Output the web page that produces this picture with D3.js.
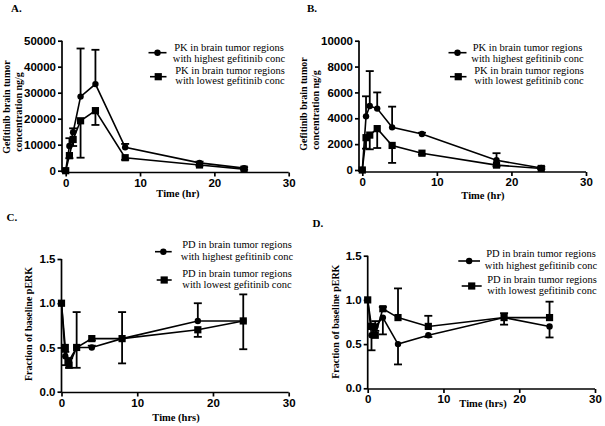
<!DOCTYPE html>
<html><head><meta charset="utf-8">
<script src="https://cdn.jsdelivr.net/npm/d3@7"></script>
<style>
html,body{margin:0;padding:0;background:#fff;}
svg{display:block;}
</style></head>
<body>
<svg id="chart" width="605" height="426"></svg>
<script>
// ---- data ----
const times = [0, 0.5, 1, 2, 4, 8, 18, 24];
const xTicks = [0, 10, 20, 30];

// Panel A (PK, concentration ng/g)
const aHigh    = [0, 9500, 14800, 28500, 33300, 9000, 3000, 1000];
const aHighErr = [0, 3000, 1500, 18500, 13200, 1300, 500, 300];
const aLow     = [0, 5800, 12000, 19200, 23100, 5000, 2200, 600];
const aLowErr  = [0, 1000, 2500, 14200, 5500, 800, 300, 200];
const aYTicks  = [0, 10000, 20000, 30000, 40000, 50000];

// Panel B (PK, concentration ng/g)
const bHigh    = [0, 4150, 4950, 4750, 3300, 2780, 750, 150];
const bHighErr = [0, 1550, 2700, 1250, 1600, 100, 550, 100];
const bLow     = [0, 2500, 2700, 3200, 1900, 1300, 380, 120];
const bLowErr  = [0, 850, 1100, 1500, 1350, 100, 100, 50];
const bYTicks  = [0, 2000, 4000, 6000, 8000, 10000];

// Panel C (PD, fraction of baseline pERK)
const cHigh    = [1.0, 0.4, 0.35, 0.5, 0.5, 0.6, 0.8, 0.8];
const cHighErr = [0, 0.05, 0.03, 0.4, 0.02, 0.3, 0.2, 0.3];
const cLow     = [1.0, 0.5, 0.3, 0.5, 0.6, 0.6, 0.7, 0.8];
const cLowErr  = [0, 0.2, 0.03, 0.23, 0.02, 0.28, 0.08, 0.32];

// Panel D (PD, fraction of baseline pERK)
const dHigh    = [1.0, 0.6, 0.7, 0.8, 0.5, 0.6, 0.8, 0.7];
const dHighErr = [0, 0.17, 0.05, 0.19, 0.23, 0.02, 0.08, 0.125];
const dLow     = [1.0, 0.7, 0.6, 0.9, 0.8, 0.7, 0.8, 0.8];
const dLowErr  = [0, 0.03, 0.16, 0.02, 0.33, 0.12, 0.05, 0.18];
const pdYTicks = [0, 0.5, 1.0, 1.5];

const pkLegend = [["PK in brain tumor regions", "with highest gefitinib conc"],
                  ["PK in brain tumor regions", "with lowest gefitinib conc"]];
const pdLegend = [["PD in brain tumor regions", "with highest gefitinib conc"],
                  ["PD in brain tumor regions", "with lowest gefitinib conc"]];

// ---- drawing ----
const svg = d3.select("#chart");
const SERIF = "'Liberation Serif','Times New Roman',serif";
const SANS = "'Liberation Sans',Arial,sans-serif";

function panel(cfg) {
  const g = svg.append("g");
  const x = d3.scaleLinear().domain([0, 30]).range([cfg.x0, cfg.x1]);
  const y = d3.scaleLinear().domain([0, cfg.yMax]).range([cfg.y0, cfg.y1]);

  // panel letter
  g.append("text").attr("x", cfg.letter[0]).attr("y", cfg.letter[1])
    .attr("font-family", SERIF).attr("font-weight", "bold").attr("font-size", 11)
    .text(cfg.letterText);

  // y axis
  const ya = g.append("g").attr("transform", `translate(${cfg.yAxisX},0)`)
    .call(d3.axisLeft(y).tickValues(cfg.yTicks).tickSize(4).tickPadding(2)
      .tickFormat(cfg.yFmt).tickSizeOuter(0));
  ya.select(".domain").attr("d", `M0,${cfg.y1}V${cfg.xAxisY}`);
  // x axis
  const xa = g.append("g").attr("transform", `translate(0,${cfg.xAxisY})`)
    .call(d3.axisBottom(x).tickValues(xTicks).tickSize(4).tickPadding(2).tickSizeOuter(0));
  xa.select(".domain").attr("d", `M${cfg.yAxisX},0H${cfg.x1}`);
  [ya, xa].forEach(a => {
    a.selectAll(".domain,line").attr("stroke", "#000").attr("stroke-width", 1.7);
    a.selectAll("text").attr("font-family", SANS).attr("font-weight", "bold")
      .attr("font-size", 11.5).attr("fill", "#000");
  });

  // axis titles
  g.append("text").attr("x", cfg.xTitle[0]).attr("y", cfg.xTitle[1])
    .attr("text-anchor", "middle").attr("dominant-baseline", "middle")
    .attr("font-family", SERIF).attr("font-weight", "bold").attr("font-size", 10.5)
    .text(cfg.xTitleText);
  cfg.yTitleLines.forEach((t, i) => {
    g.append("text")
      .attr("transform", `translate(${cfg.yTitle[i][0]},${cfg.yTitle[i][1]}) rotate(-90)`)
      .attr("text-anchor", "middle").attr("dominant-baseline", "middle")
      .attr("font-family", SERIF).attr("font-weight", "bold").attr("font-size", 10)
      .text(t);
  });

  const line = d3.line().x((d, i) => x(times[i])).y(d => y(d));
  cfg.series.forEach(s => {
    g.append("path").datum(s.values).attr("d", line)
      .attr("fill", "none").attr("stroke", "#000").attr("stroke-width", 1.6);
  });
  // error bars
  cfg.series.forEach(s => {
    s.values.forEach((v, i) => {
      const e = s.err[i];
      if (!e) return;
      const xe = x(times[i]);
      const ye = y(v + s.dir * e);
      g.append("line").attr("x1", xe).attr("x2", xe).attr("y1", y(v)).attr("y2", ye)
        .attr("stroke", "#000").attr("stroke-width", 1.8);
      g.append("line").attr("x1", xe - 4).attr("x2", xe + 4).attr("y1", ye).attr("y2", ye)
        .attr("stroke", "#000").attr("stroke-width", 1.8);
    });
  });
  // markers
  cfg.series.forEach(s => {
    s.values.forEach((v, i) => {
      drawMarker(g, s.shape, x(times[i]), y(v));
    });
  });

  // legend
  cfg.legend.forEach((lg, k) => {
    const L = cfg.legendPos[k];
    g.append("line").attr("x1", L.lx1).attr("x2", L.lx2).attr("y1", L.ly).attr("y2", L.ly)
      .attr("stroke", "#000").attr("stroke-width", 1.6);
    drawMarker(g, cfg.series[k].shape, (L.lx1 + L.lx2) / 2, L.ly);
    lg.forEach((t, j) => {
      g.append("text").attr("x", L.tx).attr("y", L.ty[j])
        .attr("text-anchor", "middle").attr("dominant-baseline", "middle")
        .attr("font-family", SERIF).attr("font-size", 10.5).text(t);
    });
  });
}

function drawMarker(g, shape, cx, cy) {
  if (shape === "circle") {
    g.append("circle").attr("cx", cx).attr("cy", cy).attr("r", 3.2).attr("fill", "#000");
  } else {
    g.append("rect").attr("x", cx - 3.6).attr("y", cy - 3.6).attr("width", 7.2).attr("height", 7.2)
      .attr("fill", "#000");
  }
}

const pkTitle = ["Gefitinib brain tumor", "concentration ng/g"];

panel({
  letterText: "A.", letter: [11, 12],
  x0: 65.7, x1: 288.7, y0: 170.7, y1: 40.7, yMax: 50000,
  yAxisX: 62, xAxisY: 172.5, yTicks: aYTicks, yFmt: d3.format("d"),
  xTitleText: "Time (hr)", xTitle: [178, 194.5],
  yTitleLines: pkTitle, yTitle: [[7.5, 107], [19.5, 112]],
  series: [{values: aHigh, err: aHighErr, dir: 1, shape: "circle"},
           {values: aLow, err: aLowErr, dir: -1, shape: "square"}],
  legend: pkLegend,
  legendPos: [{lx1: 148.5, lx2: 166.5, ly: 52.7, tx: 229, ty: [48.3, 59.3]},
              {lx1: 150, lx2: 166.5, ly: 76.7, tx: 230, ty: [71.7, 81.7]}]
});

panel({
  letterText: "B.", letter: [307, 12],
  x0: 362.3, x1: 586, y0: 170, y1: 40.7, yMax: 10000,
  yAxisX: 359, xAxisY: 172, yTicks: bYTicks, yFmt: d3.format("d"),
  xTitleText: "Time (hr)", xTitle: [483, 196.5],
  yTitleLines: pkTitle, yTitle: [[305, 104], [317, 110]],
  series: [{values: bHigh, err: bHighErr, dir: 1, shape: "circle"},
           {values: bLow, err: bLowErr, dir: -1, shape: "square"}],
  legend: pkLegend,
  legendPos: [{lx1: 448.5, lx2: 466.5, ly: 52.7, tx: 527.5, ty: [48.3, 59.3]},
              {lx1: 450, lx2: 466.5, ly: 76.7, tx: 529, ty: [71.7, 81.7]}]
});

panel({
  letterText: "C.", letter: [6.5, 221],
  x0: 61.5, x1: 288.7, y0: 391.7, y1: 259, yMax: 1.5,
  yAxisX: 61.5, xAxisY: 392.5, yTicks: pdYTicks, yFmt: d3.format(".1f"),
  xTitleText: "Time (hrs)", xTitle: [176, 418.5],
  yTitleLines: ["Fraction of baseline pERK"], yTitle: [[30, 324]],
  series: [{values: cHigh, err: cHighErr, dir: 1, shape: "circle"},
           {values: cLow, err: cLowErr, dir: -1, shape: "square"}],
  legend: pdLegend,
  legendPos: [{lx1: 155, lx2: 171.7, ly: 251.7, tx: 237, ty: [245.7, 257.3]},
              {lx1: 156.7, lx2: 171.7, ly: 280, tx: 237, ty: [275, 286]}]
});

panel({
  letterText: "D.", letter: [312.5, 226.5],
  x0: 367.7, x1: 595, y0: 388.3, y1: 255.7, yMax: 1.5,
  yAxisX: 367.7, xAxisY: 389, yTicks: pdYTicks, yFmt: d3.format(".1f"),
  xTitleText: "Time (hrs)", xTitle: [483, 405],
  yTitleLines: ["Fraction of baseline pERK"], yTitle: [[336.7, 321.7]],
  series: [{values: dHigh, err: dHighErr, dir: -1, shape: "circle"},
           {values: dLow, err: dLowErr, dir: 1, shape: "square"}],
  legend: pdLegend,
  legendPos: [{lx1: 458.3, lx2: 480, ly: 261, tx: 541, ty: [255, 266.7]},
              {lx1: 461.7, lx2: 481.7, ly: 286, tx: 542, ty: [281, 291.7]}]
});
</script>
</body></html>
